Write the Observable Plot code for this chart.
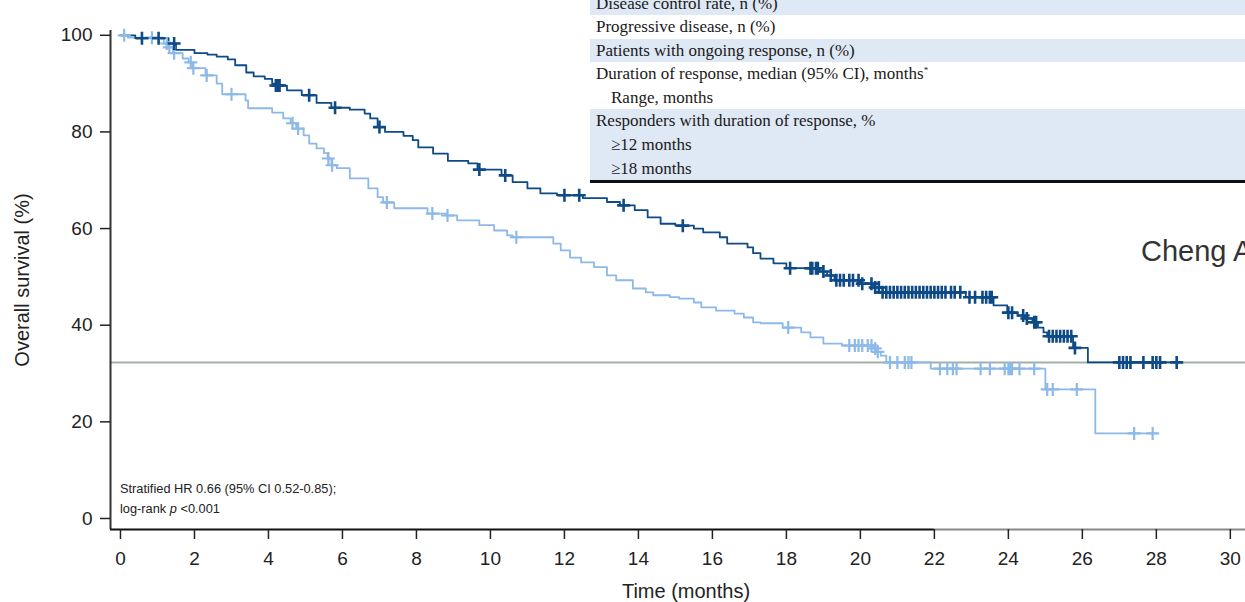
<!DOCTYPE html>
<html>
<head>
<meta charset="utf-8">
<script src="https://cdn.jsdelivr.net/npm/d3@7"></script>
<script src="https://cdn.jsdelivr.net/npm/@observablehq/plot@0.6"></script>
<style>
  html, body { margin: 0; padding: 0; background: #fff; overflow: hidden; }
  #wrap { position: relative; width: 1245px; height: 602px; overflow: hidden; font-family: "Liberation Sans", Arial, sans-serif; }
  #wrap svg { position: absolute; left: 0; top: 0; }
  .table { position: absolute; left: 590px; top: -8.5px; width: 655px; font-family: "Liberation Serif", "Times New Roman", serif; font-size: 17px; color: #1a1a1a; }
  .row { height: 23.6px; line-height: 23.6px; padding-left: 6px; white-space: nowrap; }
  .row.blue { background: #dfe8f5; }
  .row.indent { padding-left: 21px; }
  .rule { height: 2.5px; background: #111; }
  .row sup { font-size: 9px; line-height: 0; vertical-align: 6px; }
  .author { position: absolute; left: 1141px; top: 232px; font-size: 29px; line-height: 38px; color: #333; white-space: nowrap; font-family: "Liberation Sans", Arial, sans-serif; }
  .note { position: absolute; left: 120px; top: 479px; font-size: 12.8px; line-height: 20px; color: #222; white-space: nowrap; }
</style>
</head>
<body>
<div id="wrap"></div>
<script>
// ---- Data ----
const xTicks = [0, 2, 4, 6, 8, 10, 12, 14, 16, 18, 20, 22, 24, 26, 28, 30];
const yTicks = [0, 20, 40, 60, 80, 100];

// Darker arm: step times (months) and survival (%)
const darkTimes = [0, 0.4, 1.3, 1.5, 2.0, 2.35, 2.6, 2.9, 3.1, 3.4, 3.6, 3.9, 4.1, 4.2, 4.5, 4.9, 5.3, 5.7, 6.2, 6.6, 6.75, 6.95, 7.15, 7.65, 7.9, 8.05, 8.45, 8.85, 9.4, 9.65, 10.3, 10.6, 11.0, 11.35, 11.8, 12.5, 13.15, 13.5, 13.9, 14.25, 14.6, 15.0, 15.5, 15.75, 16.2, 16.4, 16.95, 17.1, 17.3, 17.65, 18.0, 18.9, 19.1, 19.3, 20.0, 20.35, 20.6, 22.85, 23.6, 23.97, 24.25, 24.45, 24.65, 24.8, 24.95, 25.05, 25.75, 26.15, 28.6];
const darkSurv  = [100, 99.4, 98.3, 97, 96.3, 96, 95.6, 95, 93.8, 92.3, 91.5, 91, 90, 89.6, 88.6, 87.6, 86, 85, 84.6, 83.8, 82.8, 81, 80, 79.2, 78.3, 76.8, 75.5, 74, 73.5, 72.2, 71, 69.6, 68.3, 67.3, 66.9, 66.3, 65.5, 64.8, 63.8, 62.3, 61, 60.6, 60, 59.2, 58.2, 56.9, 56.1, 54.9, 53.8, 52.8, 51.8, 51.1, 50.3, 49.3, 48.6, 47.8, 46.8, 45.8, 44.1, 42.6, 42, 41.4, 40.6, 39.5, 38.5, 37.7, 35.3, 32.3, 32.3];
const darkCensor = [0.58, 1.03, 1.45, 4.2, 4.25, 4.3, 5.1, 5.8, 7.0, 9.7, 10.4, 12.0, 12.4, 13.6, 15.2, 18.1, 18.65, 18.7, 18.8, 18.85, 19.0, 19.2, 19.35, 19.45, 19.55, 19.7, 19.8, 19.95, 20.05, 20.3, 20.4, 20.5, 20.6, 20.7, 20.8, 20.9, 21.0, 21.1, 21.2, 21.3, 21.4, 21.5, 21.6, 21.7, 21.8, 21.9, 22.0, 22.1, 22.2, 22.3, 22.45, 22.55, 22.7, 22.95, 23.1, 23.3, 23.4, 23.5, 23.55, 24.0, 24.1, 24.4, 24.5, 24.7, 24.75, 25.1, 25.2, 25.3, 25.4, 25.5, 25.6, 25.7, 25.8, 27.0, 27.1, 27.2, 27.3, 27.65, 27.9, 28.0, 28.1, 28.55];

// Lighter arm
const lightTimes = [0, 0.2, 1.17, 1.3, 1.42, 1.68, 1.84, 1.95, 2.3, 2.6, 2.75, 3.38, 3.45, 4.1, 4.4, 4.6, 4.75, 4.95, 5.1, 5.3, 5.5, 5.6, 5.7, 5.85, 6.2, 6.7, 6.95, 7.1, 7.4, 8.3, 8.8, 9.1, 9.7, 10.1, 10.45, 10.6, 11.7, 11.9, 12.15, 12.45, 12.8, 13.15, 13.4, 13.85, 14.2, 14.4, 14.85, 15.1, 15.5, 15.7, 16.1, 16.6, 16.85, 17.1, 17.3, 17.9, 18.4, 18.65, 19.0, 19.5, 20.35, 20.42, 20.55, 20.7, 21.9, 25.0, 26.35, 28.0];
const lightSurv  = [100, 99.5, 98.3, 97.5, 96.3, 95.2, 94.4, 93.2, 91.7, 90, 87.8, 86.5, 84.9, 84, 82.8, 81.8, 80.7, 79.3, 77.6, 76.6, 75.6, 74.5, 73.1, 72.5, 70.4, 68.3, 66.5, 65.4, 64.2, 63.1, 62.7, 61.7, 60.7, 59.6, 58.6, 58.2, 56.9, 55.5, 54, 53, 52, 50.3, 49.3, 47.6, 46.8, 46.2, 45.8, 45.5, 44.7, 43.7, 43, 42.4, 41.6, 40.6, 40.4, 39.5, 38.5, 37.5, 36.2, 35.8, 35.2, 34.5, 33.7, 32.3, 31, 26.7, 17.6, 17.6];
const lightCensor = [0.1, 0.85, 1.25, 1.32, 1.45, 1.9, 1.97, 2.33, 3.0, 4.65, 4.8, 5.62, 5.72, 7.2, 8.43, 8.84, 10.7, 18.05, 19.7, 19.85, 19.95, 20.05, 20.2, 20.3, 20.4, 20.47, 20.8, 21.0, 21.2, 21.3, 21.38, 22.15, 22.35, 22.5, 22.6, 23.25, 23.5, 23.9, 24.0, 24.05, 24.1, 24.3, 24.7, 25.05, 25.2, 25.85, 27.4, 27.9];

const referenceLevel = 32.3;   // horizontal grey reference line (%)
const axisSplit = 22;          // x-axis line changes tone here in the source image

const tableRows = [
  {text: "Disease control rate, n (%)", blue: true, indent: false},
  {text: "Progressive disease, n (%)", blue: false, indent: false},
  {text: "Patients with ongoing response, n (%)", blue: true, indent: false},
  {text: "Duration of response, median (95% CI), months<sup>*</sup>", blue: false, indent: false},
  {text: "Range, months", blue: false, indent: true},
  {text: "Responders with duration of response, %", blue: true, indent: false},
  {text: "\u226512 months", blue: true, indent: true},
  {text: "\u226518 months", blue: true, indent: true}
];
const authorText = "Cheng A";
const noteLines = ["Stratified HR 0.66 (95% CI 0.52-0.85);", "log-rank <i>p</i> &lt;0.001"];

// ---- Build tables ----
const DARK = "#0d4a86", LIGHT = "#8db9e8";
const curve = (times, surv) => times.map((t, i) => ({t, s: surv[i]}));
const survAt = (times, surv, t) => { let v = surv[0]; for (let i = 0; i < times.length; i++) if (times[i] <= t) v = surv[i]; return v; };
const darkLine = curve(darkTimes, darkSurv);
const lightLine = curve(lightTimes, lightSurv);
const darkMarks = darkCensor.map(t => ({t, s: survAt(darkTimes, darkSurv, t)}));
const lightMarks = lightCensor.map(t => ({t, s: survAt(lightTimes, lightSurv, t)}));

const plusSymbol = {
  draw(ctx, size) {
    const h = Math.sqrt(size / Math.PI);
    ctx.moveTo(-h, 0); ctx.lineTo(h, 0);
    ctx.moveTo(0, -h); ctx.lineTo(0, h);
  }
};

const xMin = -0.27, xMax = 30.41, yMin = -2.28, yMax = 107.2, yAxisTop = 101;

const chart = Plot.plot({
  width: 1245,
  height: 602,
  marginLeft: 110,
  marginRight: 0,
  marginTop: 0,
  marginBottom: 73,
  style: {fontFamily: "'Liberation Sans', Arial, sans-serif", fontSize: "19px", color: "#222", background: "transparent"},
  x: {domain: [xMin, xMax]},
  y: {domain: [yMin, yMax]},
  marks: [
    Plot.ruleY([referenceLevel], {stroke: "#a3b0a6", strokeWidth: 2}),
    Plot.line(lightLine, {x: "t", y: "s", curve: "step-after", stroke: LIGHT, strokeWidth: 1.8}),
    Plot.line(darkLine, {x: "t", y: "s", curve: "step-after", stroke: DARK, strokeWidth: 1.8}),
    Plot.dot(lightMarks, {x: "t", y: "s", symbol: plusSymbol, r: 6.5, stroke: LIGHT, fill: "none", strokeWidth: 2.2}),
    Plot.dot(darkMarks, {x: "t", y: "s", symbol: plusSymbol, r: 6.5, stroke: DARK, fill: "none", strokeWidth: 2.6}),
    Plot.ruleX([xMin], {y1: yMin, y2: yAxisTop, stroke: "#333", strokeWidth: 2}),
    Plot.ruleY([yMin], {x1: xMin, x2: axisSplit, stroke: "#111", strokeWidth: 2}),
    Plot.ruleY([yMin], {x1: axisSplit, x2: xMax, stroke: "#888", strokeWidth: 2}),
    Plot.axisX({ticks: xTicks, tickSize: 10, tickPadding: 12, fontSize: 19, label: null, stroke: "#222", strokeWidth: 1.5}),
    Plot.axisY({ticks: yTicks, tickSize: 10, tickPadding: 8, fontSize: 19, label: null, stroke: "#222", strokeWidth: 1.5}),
    Plot.text(["Time (months)"], {frameAnchor: "bottom", dy: 68, dx: 8, fontSize: 20, fill: "#222"}),
    Plot.text(["Overall survival (%)"], {frameAnchor: "left", textAnchor: "middle", rotate: -90, dx: -88, dy: 15, fontSize: 20, fill: "#222"})
  ]
});

const wrap = document.getElementById("wrap");
wrap.appendChild(chart);

const table = document.createElement("div");
table.className = "table";
table.innerHTML = tableRows.map(r => `<div class="row${r.blue ? " blue" : ""}${r.indent ? " indent" : ""}">${r.text}</div>`).join("") + `<div class="rule"></div>`;
wrap.appendChild(table);

const author = document.createElement("div");
author.className = "author";
author.textContent = authorText;
wrap.appendChild(author);

const note = document.createElement("div");
note.className = "note";
note.innerHTML = noteLines.join("<br>");
wrap.appendChild(note);
</script>
</body>
</html>
